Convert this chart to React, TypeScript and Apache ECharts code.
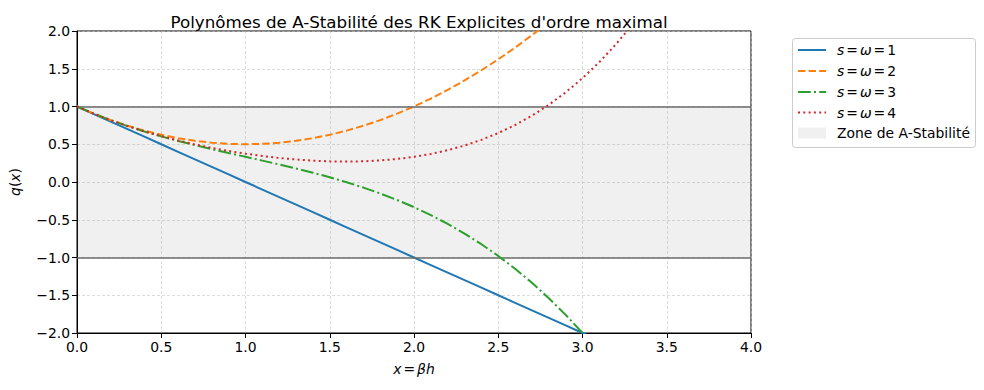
import React, { useEffect, useRef } from "react";
import * as echarts from "echarts";

const xValues = [0, 0.1, 0.2, 0.3, 0.4, 0.5, 0.6, 0.7, 0.8, 0.9, 1.0, 1.1, 1.2, 1.3, 1.4, 1.5, 1.6, 1.7, 1.8, 1.9, 2.0, 2.1, 2.2, 2.3, 2.4, 2.5, 2.6, 2.7, 2.8, 2.9, 3.0, 3.1, 3.2, 3.3];
const q1 = [1, 0.9, 0.8, 0.7, 0.6, 0.5, 0.4, 0.3, 0.2, 0.1, 0, -0.1, -0.2, -0.3, -0.4, -0.5, -0.6, -0.7, -0.8, -0.9, -1.0, -1.1, -1.2, -1.3, -1.4, -1.5, -1.6, -1.7, -1.8, -1.9, -2.0, -2.1, -2.2, -2.3];
const q2 = [1, 0.905, 0.82, 0.745, 0.68, 0.625, 0.58, 0.545, 0.52, 0.505, 0.5, 0.505, 0.52, 0.545, 0.58, 0.625, 0.68, 0.745, 0.82, 0.905, 1.0, 1.105, 1.22, 1.345, 1.48, 1.625, 1.78, 1.945, 2.12, 2.305, 2.5, 2.705, 2.92, 3.145];
const q3 = [1, 0.9048, 0.8187, 0.7405, 0.6693, 0.6042, 0.544, 0.4878, 0.4347, 0.3835, 0.3333, 0.2832, 0.232, 0.1788, 0.1227, 0.0625, -0.0027, -0.0738, -0.152, -0.2382, -0.3333, -0.4385, -0.5547, -0.6828, -0.824, -0.9792, -1.1493, -1.3355, -1.5387, -1.7598, -2.0, -2.2602, -2.5413, -2.8445];
const q4 = [1, 0.9048, 0.8187, 0.7408, 0.6704, 0.6068, 0.5494, 0.4978, 0.4517, 0.4108, 0.375, 0.3442, 0.3184, 0.2978, 0.2827, 0.2734, 0.2704, 0.2742, 0.2854, 0.3048, 0.3333, 0.3718, 0.4214, 0.4832, 0.5584, 0.6484, 0.7548, 0.8788, 1.0224, 1.1872, 1.375, 1.5878, 1.8277, 2.0968];

const seriesNames = ["s = ω = 1", "s = ω = 2", "s = ω = 3", "s = ω = 4"];
const seriesRich = ["{i|s}{e|=}{i|ω}{e|=}1", "{i|s}{e|=}{i|ω}{e|=}2", "{i|s}{e|=}{i|ω}{e|=}3", "{i|s}{e|=}{i|ω}{e|=}4"];
const zoneLabel = "Zone de A-Stabilité";
const zoneBounds = [-1, 1];
const titleText = "Polynômes de A-Stabilité des RK Explicites d'ordre maximal";

const colors = ["#1f77b4", "#ff7f0e", "#2ca02c", "#d62728"];
const dashes: any[] = ["solid", [7.4, 3.2], [12.8, 3.2, 2, 3.2], [2, 3.3]];
const FONT = "DejaVu Sans";
const FS = 13.9;

export default function App() {
  const ref = useRef<HTMLDivElement>(null);
  useEffect(() => {
    if (!ref.current) return;
    const chart = echarts.init(ref.current, undefined, { renderer: "svg" });
    const allY = [q1, q2, q3, q4];
    const italicRich = {
      i: { fontStyle: "italic", fontFamily: FONT, fontSize: FS, color: "#000" },
      e: { fontFamily: FONT, fontSize: FS, color: "#000", padding: [0, 2, 0, 2] },
    };
    const legendX = 792;
    const legendY = 38;
    const rowY = [50, 71, 92, 112.5, 133];
    const legendGraphics: any[] = [
      {
        type: "rect",
        shape: { x: legendX + 0.5, y: legendY + 0.5, width: 183, height: 109, r: 3 },
        style: { fill: "rgba(255,255,255,0.8)", stroke: "#cccccc", lineWidth: 1 },
        z: 100,
      },
    ];
    seriesNames.forEach((_, k) => {
      legendGraphics.push({
        type: "line",
        shape: { x1: 798, y1: rowY[k], x2: 826, y2: rowY[k] },
        style: {
          stroke: colors[k],
          lineWidth: 2,
          lineDash: dashes[k] === "solid" ? null : dashes[k],
          lineCap: "butt",
        },
        z: 101,
      });
      legendGraphics.push({
        type: "text",
        x: 837,
        y: rowY[k],
        style: {
          text: seriesRich[k],
          rich: italicRich,
          fontFamily: FONT,
          fontSize: FS,
          fill: "#000",
          verticalAlign: "middle",
        },
        z: 101,
      });
    });
    legendGraphics.push({
      type: "rect",
      shape: { x: 798, y: rowY[4] - 5.5, width: 28, height: 11 },
      style: { fill: "rgba(128,128,128,0.12)" },
      z: 101,
    });
    legendGraphics.push({
      type: "text",
      x: 837,
      y: rowY[4],
      style: {
        text: zoneLabel,
        fontFamily: FONT,
        fontSize: FS,
        fill: "#000",
        verticalAlign: "middle",
      },
      z: 101,
    });

    const option: any = {
      animation: false,
      backgroundColor: "#fff",
      title: {
        text: titleText,
        left: 414,
        top: 8,
        textAlign: "center",
        textStyle: { fontFamily: FONT, fontSize: 16.7, fontWeight: "normal", color: "#000" },
      },
      grid: {
        left: 77,
        right: 233,
        top: 31,
        bottom: 57,
        show: true,
        borderColor: "#000",
        borderWidth: 1,
        backgroundColor: "transparent",
      },
      xAxis: {
        type: "value",
        min: 0,
        max: 4,
        interval: 0.5,
        name: "{i|x}{e|=}{i|βh}",
        nameLocation: "middle",
        nameGap: 29,
        nameTextStyle: { fontFamily: FONT, fontSize: FS, color: "#000", rich: italicRich },
        axisLine: { show: true, onZero: false, lineStyle: { color: "#000", width: 1 } },
        axisTick: { show: true, length: 5, lineStyle: { color: "#000" } },
        axisLabel: {
          color: "#000",
          fontFamily: FONT,
          fontSize: FS,
          margin: 7,
          formatter: (v: number) => v.toFixed(1),
        },
        splitLine: { show: true, lineStyle: { color: "#c4c4c4", width: 0.6, type: [3, 2] } },
      },
      yAxis: {
        type: "value",
        min: -2,
        max: 2,
        interval: 0.5,
        name: "{i|q}({i|x})",
        nameLocation: "middle",
        nameGap: 55,
        nameTextStyle: { fontFamily: FONT, fontSize: FS, color: "#000", rich: italicRich },
        axisLine: { show: true, onZero: false, lineStyle: { color: "#000", width: 1 } },
        axisTick: { show: true, length: 5, lineStyle: { color: "#000" } },
        axisLabel: {
          color: "#000",
          fontFamily: FONT,
          fontSize: FS,
          margin: 7,
          formatter: (v: number) => v.toFixed(1).replace("-", "\u2212"),
        },
        splitLine: { show: true, lineStyle: { color: "#c4c4c4", width: 0.6, type: [3, 2] } },
      },
      series: [
        {
          name: zoneLabel,
          type: "line",
          data: [],
          z: 1,
          silent: true,
          markArea: {
            silent: true,
            itemStyle: { color: "rgba(128,128,128,0.12)" },
            data: [[{ yAxis: zoneBounds[0] }, { yAxis: zoneBounds[1] }]],
          },
          markLine: {
            silent: true,
            symbol: "none",
            label: { show: false },
            lineStyle: { color: "#6b6b6b", width: 1.6, type: "solid" },
            data: [{ yAxis: zoneBounds[0] }, { yAxis: zoneBounds[1] }],
          },
        },
        ...allY.map((ys, k) => ({
          name: seriesNames[k],
          type: "line",
          z: 3 + k,
          clip: true,
          showSymbol: false,
          symbol: "none",
          data: xValues.map((x, i) => [x, ys[i]]),
          lineStyle: { color: colors[k], width: 2, type: dashes[k], cap: "butt" },
          itemStyle: { color: colors[k] },
        })),
      ],
      graphic: legendGraphics,
    };
    chart.setOption(option);
    return () => chart.dispose();
  }, []);
  return <div ref={ref} style={{ width: 984, height: 390, position: "fixed", left: 0, top: 0 }} />;
}
